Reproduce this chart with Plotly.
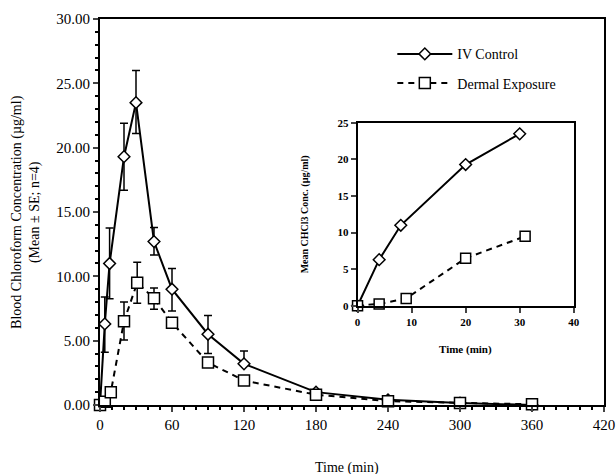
import plotly.graph_objects as go

# ---- data ----
iv_time = [0, 4, 8, 20, 30, 45, 60, 90, 120, 180, 240, 300, 360]
iv_mean = [0.0, 6.3, 11.0, 19.3, 23.5, 12.7, 9.0, 5.5, 3.2, 1.0, 0.4, 0.15, 0.0]
iv_se_up = [0, 2.1, 2.75, 2.6, 2.5, 1.1, 1.6, 1.45, 1.0, 0.15, 0.1, 0.05, 0]
iv_se_dn = [0, 2.2, 2.75, 2.6, 2.4, 1.05, 1.7, 1.5, 0, 0, 0, 0, 0]

de_time = [0, 4, 9, 20, 31, 45, 60, 90, 120, 180, 240, 300, 360]
de_mean = [0.0, 0.25, 1.0, 6.5, 9.5, 8.3, 6.4, 3.3, 1.9, 0.8, 0.3, 0.15, 0.05]
de_se_up = [0, 0.1, 0.2, 1.5, 1.6, 0.8, 0, 0, 0, 0, 0, 0, 0]
de_se_dn = [0, 0.1, 0.2, 1.45, 1.6, 0.85, 0, 0, 0, 0, 0, 0, 0]

inset_n = 5  # first five time points shown in inset

x_ticks = [0, 60, 120, 180, 240, 300, 360, 420]
y_ticks = [0, 5, 10, 15, 20, 25, 30]

FONT = "Times New Roman, Liberation Serif, serif"

fig = go.Figure()

fig.add_trace(go.Scatter(
    x=iv_time, y=iv_mean, mode="lines+markers", name="IV Control",
    legendgroup="a",
    line=dict(color="black", width=2),
    marker=dict(symbol="diamond", size=9, color="white", line=dict(color="black", width=1.5)),
    error_y=dict(type="data", symmetric=False, array=iv_se_up, arrayminus=iv_se_dn,
                 color="black", thickness=1.5, width=4),
    cliponaxis=False,
))
fig.add_trace(go.Scatter(
    x=de_time, y=de_mean, mode="lines+markers", name="Dermal Exposure",
    legendgroup="b",
    line=dict(color="black", width=2, dash="6px,5px"),
    marker=dict(symbol="square", size=11, color="white", line=dict(color="black", width=1.5)),
    error_y=dict(type="data", symmetric=False, array=de_se_up, arrayminus=de_se_dn,
                 color="black", thickness=1.5, width=4),
    cliponaxis=False,
))

# inset
fig.add_trace(go.Scatter(
    x=iv_time[:inset_n], y=iv_mean[:inset_n], mode="lines+markers", showlegend=False,
    xaxis="x2", yaxis="y2",
    line=dict(color="black", width=2),
    marker=dict(symbol="diamond", size=9, color="white", line=dict(color="black", width=1.5)),
    cliponaxis=False,
))
fig.add_trace(go.Scatter(
    x=de_time[:inset_n], y=de_mean[:inset_n], mode="lines+markers", showlegend=False,
    xaxis="x2", yaxis="y2",
    line=dict(color="black", width=2, dash="6px,5px"),
    marker=dict(symbol="square", size=10, color="white", line=dict(color="black", width=1.5)),
    cliponaxis=False,
))

fig.update_layout(
    width=616, height=474,
    margin=dict(l=100, r=12, t=19, b=69, autoexpand=False),
    paper_bgcolor="white", plot_bgcolor="white",
    font=dict(family=FONT, color="black", size=13),
    showlegend=True,
    legend=dict(x=0.58, y=0.95, xanchor="left", yanchor="top",
                bgcolor="rgba(0,0,0,0)", font=dict(size=14, family=FONT),
                tracegroupgap=8, itemwidth=55),
    xaxis=dict(range=[0, 420], tickvals=x_ticks, ticks="outside", ticklen=5,
               tickwidth=1.5, showgrid=False, zeroline=False, automargin=False,
               showline=True, linecolor="black", linewidth=2, mirror=True,
               minor=dict(dtick=10, ticks="outside", ticklen=3, tickcolor="black", showgrid=False),
               tickfont=dict(size=15)),
    yaxis=dict(range=[0, 30], tickvals=y_ticks, tickformat=".2f", ticks="outside",
               ticklen=5, tickwidth=1.5, showgrid=False, zeroline=False, automargin=False,
               showline=True, linecolor="black", linewidth=2, mirror=True,
               minor=dict(dtick=1, ticks="outside", ticklen=3, tickcolor="black", showgrid=False),
               tickfont=dict(size=15)),
    xaxis2=dict(domain=[0.511, 0.940], anchor="y2", range=[0, 40], dtick=10,
                ticks="outside", ticklen=5, tickwidth=1.5, showgrid=False, zeroline=False,
                showline=True, linecolor="black", linewidth=1.5, mirror=True, automargin=False,
                tickfont=dict(size=11, family=FONT, weight="bold")),
    yaxis2=dict(domain=[0.257, 0.731], anchor="x2", range=[0, 25], dtick=5,
                ticks="outside", ticklen=5, tickwidth=1.5, showgrid=False, zeroline=False,
                showline=True, linecolor="black", linewidth=1.5, mirror=True, automargin=False,
                tickfont=dict(size=11, family=FONT, weight="bold")),
    annotations=[
        dict(text="Blood Chloroform Concentration (µg/ml)<br>(Mean ± SE; n=4)",
             xref="paper", yref="paper", x=-0.147, y=0.5, textangle=-90,
             showarrow=False, xanchor="center", yanchor="middle",
             font=dict(size=14, family=FONT)),
        dict(text="Time (min)", xref="paper", yref="paper", x=0.49, y=-0.163,
             showarrow=False, xanchor="center", yanchor="middle",
             font=dict(size=14, family=FONT)),
        dict(text="Mean CHCl3 Conc. (µg/ml)", xref="paper", yref="paper",
             x=(305 - 100) / 504, y=(0.257 + 0.731) / 2, textangle=-90,
             showarrow=False, xanchor="center", yanchor="middle",
             font=dict(size=10, family=FONT, weight="bold")),
        dict(text="Time (min)", xref="paper", yref="paper",
             x=(0.511 + 0.940) / 2, y=(405 - 349) / 386,
             showarrow=False, xanchor="center", yanchor="middle",
             font=dict(size=11, family=FONT, weight="bold")),
    ],
)

fig.write_html(
    "out.html",
    config={"displayModeBar": False},
    post_script="document.body.style.margin='0';document.body.style.overflow='hidden';",
)
